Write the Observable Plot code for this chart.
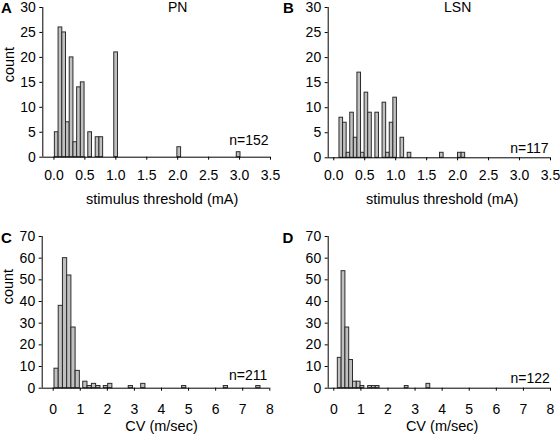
<!DOCTYPE html>
<html>
<head>
<meta charset="utf-8">
<script src="https://cdn.jsdelivr.net/npm/d3@7"></script>
<script src="https://cdn.jsdelivr.net/npm/@observablehq/plot@0.6"></script>
<style>
  html, body { margin: 0; padding: 0; background: #fff; }
  #chart { position: relative; width: 560px; height: 434px; }
  #chart > svg { position: absolute; }
</style>
</head>
<body>
<div id="chart"></div>
<script>
// ---- Data ----
// Panel A: PN stimulus threshold (mA) histogram — bin starts and counts
const thrPN_binStart = [0.015, 0.075, 0.135, 0.195, 0.255, 0.315, 0.375, 0.435, 0.555, 0.675, 0.735, 0.975, 1.995, 2.955];
const thrPN_count    = [5, 26, 25, 7, 20, 3, 14, 15, 5, 4, 4, 21, 2, 1];
const thrPN_binWidth = 0.06;

// Panel B: LSN stimulus threshold (mA)
const thrLSN_binStart = [0.092, 0.150, 0.208, 0.266, 0.324, 0.382, 0.440, 0.498, 0.556, 0.672, 0.788, 0.846, 0.904, 0.962, 1.078, 1.194, 1.716, 2.006, 2.064];
const thrLSN_count    = [8, 7, 1, 9, 4, 17, 1, 13, 9, 9, 11, 1, 7, 12, 4, 1, 1, 1, 1];
const thrLSN_binWidth = 0.058;

// Panel C: PN conduction velocity (m/sec)
const cvPN_binStart = [0.048, 0.204, 0.360, 0.516, 0.672, 0.828, 1.11, 1.27, 1.43, 1.59, 1.87, 2.03, 2.79, 3.25, 4.76, 6.30, 7.50];
const cvPN_count    = [9, 38, 60, 52, 28, 8, 3, 1, 2, 1, 1, 2, 1, 2, 1, 1, 1];
const cvPN_binWidth = 0.156;

// Panel D: LSN conduction velocity (m/sec)
const cvLSN_binStart = [0.148, 0.288, 0.428, 0.568, 0.708, 0.848, 0.988, 1.268, 1.408, 1.548, 2.62, 3.42];
const cvLSN_count    = [14, 54, 28, 13, 3, 3, 1, 1, 1, 1, 1, 2];
const cvLSN_binWidth = 0.14;

// Tick values and labels
const thrTicks = [0, 0.5, 1.0, 1.5, 2.0, 2.5, 3.0, 3.5];
const cvTicks = [0, 1, 2, 3, 4, 5, 6, 7, 8];
const thrCountTicks = [0, 5, 10, 15, 20, 25, 30];
const cvCountTicks = [0, 10, 20, 30, 40, 50, 60, 70];

const panelLetters = ["A", "B", "C", "D"];
const panelTitles = ["PN", "LSN"];
const thrLabel = "stimulus threshold (mA)";
const cvLabel = "CV (m/sec)";
const yLabel = "count";
const nLabels = ["n=152", "n=117", "n=211", "n=122"];

// ---- Drawing ----
const FONT = "'Liberation Sans', Arial, Helvetica, sans-serif";
const FS = 14;

function bins(starts, counts, w) {
  return starts.map((s, i) => ({x1: s, x2: s + w, count: counts[i]}));
}

function panel(o) {
  const data = bins(o.starts, o.counts, o.bw);
  const xMid = (o.xTicks[0] + o.xTicks[o.xTicks.length - 1]) / 2;
  const T = {lineAnchor: "middle", fill: "#000"};
  const marks = [
    Plot.rectY(data, {x1: "x1", x2: "x2", y: "count", fill: "#c0c0c0", stroke: "#2b2b2b", strokeWidth: 1, insetLeft: 0, insetRight: 0}),
    Plot.ruleY([0], {stroke: "#000", strokeWidth: 1}),
    Plot.ruleX([o.xDomain[0]], {y1: o.yDomain[0], y2: o.yDomain[1], stroke: "#000", strokeWidth: 1}),
    Plot.axisY({ticks: o.yTicks, tickSize: 3, tickPadding: 4, label: null, fontSize: FS, stroke: "#000"}),
    Plot.axisX({ticks: o.xTicks, tickSize: 3, tickPadding: o.xPad, tickFormat: o.xFmt, label: null, fontSize: FS}),
    Plot.text([o.xLabel], {...T, x: xMid, frameAnchor: "bottom", dy: o.xLabelDy, fontSize: FS + 0.5}),
    Plot.text([o.n], {...T, frameAnchor: "bottom-right", textAnchor: "end", dx: o.nDx, dy: o.nDy, fontSize: FS}),
    Plot.text([o.letter], {...T, frameAnchor: "top-left", textAnchor: "middle", dx: o.letterDx, dy: o.letterDy, fontSize: FS + 1, fontWeight: "bold"})
  ];
  if (o.title) marks.push(Plot.text([o.title], {...T, x: 2.0, frameAnchor: "top", dy: o.titleDy, fontSize: FS}));
  if (o.showY) marks.push(Plot.text([yLabel], {...T, frameAnchor: "left", rotate: -90, dx: o.yLabelDx, dy: o.yLabelDy, fontSize: FS + 0.5}));
  const svg = Plot.plot({
    width: 280, height: 217,
    marginLeft: o.ml, marginRight: o.mr, marginTop: o.mt, marginBottom: o.mb,
    x: {domain: o.xDomain},
    y: {domain: o.yDomain},
    style: {fontFamily: FONT, fontSize: FS + "px", color: "#000", background: "transparent", overflow: "visible"},
    marks
  });
  svg.style.left = o.left + "px";
  svg.style.top = o.top + "px";
  return svg;
}

const chart = document.getElementById("chart");
const fmt1 = d3.format(".1f");
const fmt0 = d3.format("d");

chart.appendChild(panel({
  left: 0, top: 0, ml: 42.3, mr: 10, mt: 7, mb: 60.3,
  starts: thrPN_binStart, counts: thrPN_count, bw: thrPN_binWidth,
  xDomain: [-0.18, 3.5], xTicks: thrTicks, xFmt: fmt1, xPad: 10,
  yDomain: [0, 30], yTicks: thrCountTicks,
  xLabel: thrLabel, xLabelDy: 42.5,
  n: nLabels[0], nDx: -2, nDy: -16.7,
  letter: panelLetters[0], letterDx: -36.3, letterDy: 0.8,
  title: panelTitles[0], titleDy: 0.5,
  showY: true, yLabelDx: -33.3, yLabelDy: 0
}));
chart.appendChild(panel({
  left: 280, top: 0, ml: 47.7, mr: 10, mt: 7, mb: 59.7,
  starts: thrLSN_binStart, counts: thrLSN_count, bw: thrLSN_binWidth,
  xDomain: [-0.09, 3.5], xTicks: thrTicks, xFmt: fmt1, xPad: 9.5,
  yDomain: [0, 30], yTicks: thrCountTicks,
  xLabel: thrLabel, xLabelDy: 42,
  n: nLabels[1], nDx: -2, nDy: -9.3,
  letter: panelLetters[1], letterDx: -39.7, letterDy: 0.8,
  title: panelTitles[1], titleDy: 0.5,
  showY: false
}));
chart.appendChild(panel({
  left: 0, top: 217, ml: 41.7, mr: 10.7, mt: 19, mb: 46.3,
  starts: cvPN_binStart, counts: cvPN_count, bw: cvPN_binWidth,
  xDomain: [-0.406, 8], xTicks: cvTicks, xFmt: fmt0, xPad: 12.4,
  yDomain: [0, 70], yTicks: cvCountTicks,
  xLabel: cvLabel, xLabelDy: 38,
  n: nLabels[2], nDx: -2.6, nDy: -12.7,
  letter: panelLetters[2], letterDx: -35.9, letterDy: 1.5,
  showY: true, yLabelDx: -34.2, yLabelDy: -8
}));
chart.appendChild(panel({
  left: 280, top: 217, ml: 47.7, mr: 10, mt: 19, mb: 46.3,
  starts: cvLSN_binStart, counts: cvLSN_count, bw: cvLSN_binWidth,
  xDomain: [-0.207, 8], xTicks: cvTicks, xFmt: fmt0, xPad: 12.6,
  yDomain: [0, 70], yTicks: cvCountTicks,
  xLabel: cvLabel, xLabelDy: 38,
  n: nLabels[3], nDx: -0.7, nDy: -9.7,
  letter: panelLetters[3], letterDx: -40.2, letterDy: 1.5,
  showY: false
}));
</script>
</body>
</html>
